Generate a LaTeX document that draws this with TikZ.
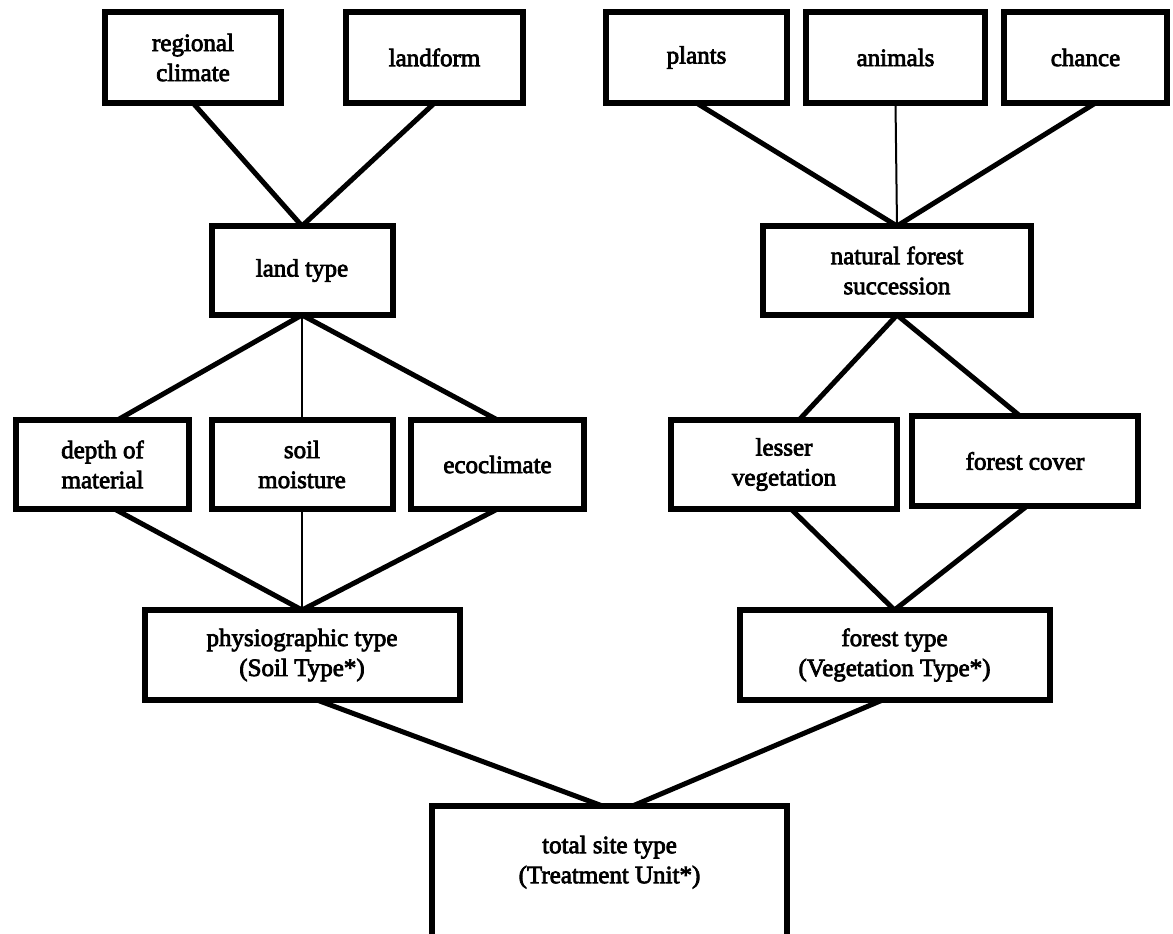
\documentclass[tikz,border=0pt]{standalone}
\usepackage{fontspec}
\setmainfont{Liberation Serif}[FakeBold=3]
\usetikzlibrary{backgrounds}

\tikzset{
  box/.style={draw, line width=6pt, fill=white, inner sep=0pt, outer sep=0pt,
              align=center, font=\fontsize{25}{30}\selectfont},
  conn/.style={line width=5pt},
  thinconn/.style={line width=2pt}
}

\begin{document}
\begin{tikzpicture}[x=1pt, y=-1pt]
\useasboundingbox (0,0) rectangle (1173,934);

% top row
\node[box, minimum width=176, minimum height=91] (rc)  at (193,57.5)    {regional\\climate};
\node[box, minimum width=177, minimum height=91] (lf)  at (434.5,57.5)  {landform};
\node[box, minimum width=181, minimum height=91] (pl)  at (696.5,57.5)  {plants};
\node[box, minimum width=179, minimum height=91] (an)  at (895.5,57.5)  {animals};
\node[box, minimum width=163, minimum height=91] (ch)  at (1085.5,57.5) {chance};

% second row
\node[box, minimum width=181, minimum height=89] (lt)  at (302,270.5)   {land type};
\node[box, minimum width=268, minimum height=89] (nfs) at (897,270.5)   {natural forest\\succession};

% third row
\node[box, minimum width=173, minimum height=89] (dm)  at (102.5,464.5) {depth of\\material};
\node[box, minimum width=181, minimum height=89] (sm)  at (302,464.5)   {soil\\moisture};
\node[box, minimum width=173, minimum height=89] (ec)  at (497.5,464.5) {ecoclimate};
\node[box, minimum width=226, minimum height=89] (lv)  at (784,464.5)   {lesser\\vegetation};
\node[box, minimum width=226, minimum height=90] (fc)  at (1025,461)    {forest cover};

% fourth row
\node[box, minimum width=315, minimum height=90] (pt)  at (302,655)     {physiographic type\\(Soil Type*)};
\node[box, minimum width=310, minimum height=90] (ft)  at (894.5,655)   {forest type\\(Vegetation Type*)};

% bottom
\node[box, minimum width=355, minimum height=131, text depth=24pt] (ts) at (609.5,871.5)
  {total site type\\(Treatment Unit*)};

\begin{scope}[on background layer]
  \draw[conn] (rc.south) -- (lt.north);
  \draw[conn] (lf.south) -- (lt.north);
  \draw[conn] (pl.south) -- (nfs.north);
  \draw[thinconn] (an.south) -- (nfs.north);
  \draw[conn] ([xshift=10pt]ch.south) -- (nfs.north);

  \draw[conn] (lt.south) -- ([xshift=15pt]dm.north);
  \draw[thinconn] (lt.south) -- (sm.north);
  \draw[conn] (lt.south) -- (ec.north);
  \draw[conn] (nfs.south) -- ([xshift=15pt]lv.north);
  \draw[conn] (nfs.south) -- ([xshift=-5pt]fc.north);

  \draw[conn] ([xshift=12pt]dm.south) -- (pt.north);
  \draw[thinconn] (sm.south) -- (pt.north);
  \draw[conn] (ec.south) -- (pt.north);
  \draw[conn] ([xshift=7pt]lv.south) -- (ft.north);
  \draw[conn] ([xshift=2pt]fc.south) -- (ft.north);

  \draw[conn] ([xshift=15pt]pt.south) -- ([xshift=-7pt]ts.north);
  \draw[conn] ([xshift=-12pt]ft.south) -- ([xshift=23pt]ts.north);
\end{scope}
\end{tikzpicture}
\end{document}
